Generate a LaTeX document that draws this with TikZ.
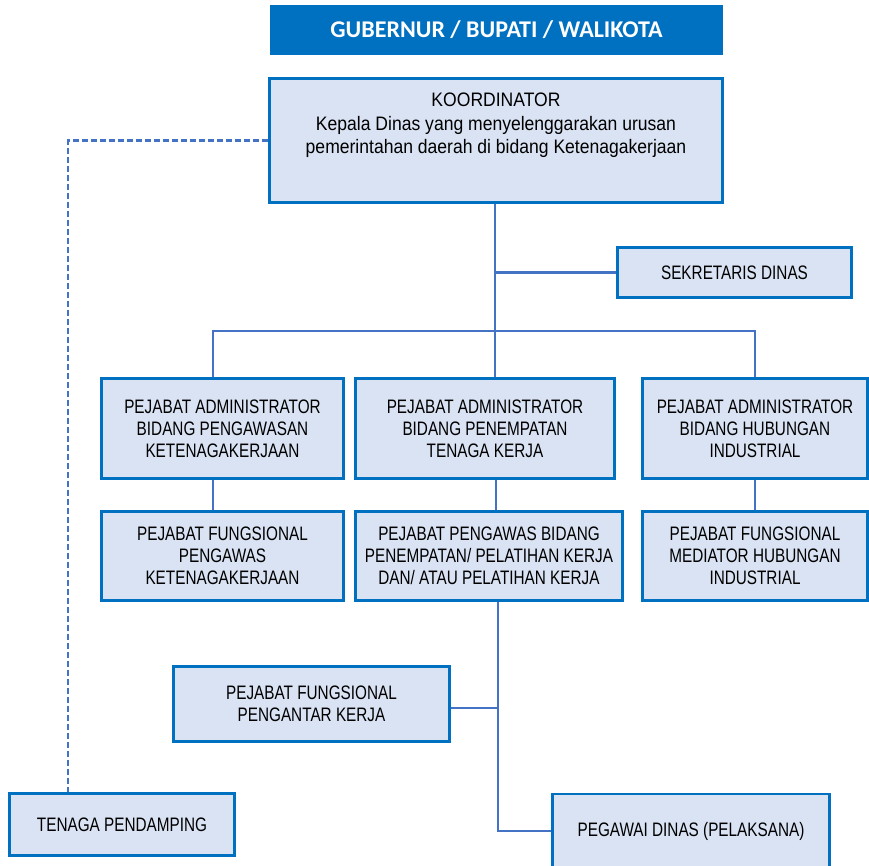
\documentclass[tikz,border=0pt]{standalone}
\usepackage{fontspec}
\setmainfont{Liberation Sans}
\newfontfamily\narrowfont[FakeStretch=0.785]{Liberation Sans}
\newfontfamily\koorfont[FakeStretch=0.9]{Liberation Sans}
\newfontfamily\titlefont{Carlito}
\definecolor{boxborder}{HTML}{0070C0}
\definecolor{boxfill}{HTML}{DAE3F3}
\definecolor{connblue}{HTML}{4472C4}
\tikzset{
  orgbox/.style={draw=boxborder, fill=boxfill, line width=2.6pt, align=center, inner sep=0pt,
    font=\narrowfont\fontsize{19.5}{22}\selectfont},
  titlebox/.style={fill=boxborder, text=white, inner sep=0pt,
    font=\titlefont\bfseries\fontsize{24}{28}\selectfont},
  conn/.style={draw=connblue, line width=2.8pt},
  dashconn/.style={conn, dash pattern=on 6pt off 3pt}
}
\begin{document}
\begin{tikzpicture}[x=1pt,y=-1pt]
\useasboundingbox (0,0) rectangle (869,865);
% nodes
\node[titlebox, minimum width=453pt, minimum height=50pt] (title) at (496.5,30) {GUBERNUR / BUPATI / WALIKOTA};
\node[orgbox, minimum width=453.5pt, minimum height=124.5pt] (koor) at (496,140.5) {};
\node[align=center, inner sep=0pt, anchor=north, font=\koorfont\fontsize{19.5}{23.5}\selectfont] (koortext) at (496,93)
  {KOORDINATOR\\Kepala Dinas yang menyelenggarakan urusan\\pemerintahan daerah di bidang Ketenagakerjaan};
\node[orgbox, minimum width=234.5pt, minimum height=50.5pt] (sek) at (734.5,272.5) {SEKRETARIS DINAS};
\node[orgbox, minimum width=242.5pt, minimum height=100.5pt] (a1) at (222.5,428.5) {PEJABAT ADMINISTRATOR\\BIDANG PENGAWASAN\\KETENAGAKERJAAN};
\node[orgbox, minimum width=259.5pt, minimum height=100.5pt] (a2) at (485,428.5) {PEJABAT ADMINISTRATOR\\BIDANG PENEMPATAN\\TENAGA KERJA};
\node[orgbox, minimum width=225.5pt, minimum height=100.5pt] (a3) at (755,428.5) {PEJABAT ADMINISTRATOR\\BIDANG HUBUNGAN\\INDUSTRIAL};
\node[orgbox, minimum width=242.5pt, minimum height=89.5pt] (f1) at (222.5,556) {PEJABAT FUNGSIONAL\\PENGAWAS\\KETENAGAKERJAAN};
\node[orgbox, minimum width=267.5pt, minimum height=89.5pt] (f2) at (489,556) {PEJABAT PENGAWAS BIDANG\\PENEMPATAN/ PELATIHAN KERJA\\DAN/ ATAU PELATIHAN KERJA};
\node[orgbox, minimum width=225.5pt, minimum height=89.5pt] (f3) at (755,556) {PEJABAT FUNGSIONAL\\MEDIATOR HUBUNGAN\\INDUSTRIAL};
\node[orgbox, minimum width=276.5pt, minimum height=75.5pt] (pk) at (311.5,704) {PEJABAT FUNGSIONAL\\PENGANTAR KERJA};
\node[orgbox, minimum width=225.5pt, minimum height=62.5pt] (tp) at (122,824.5) {TENAGA PENDAMPING};
\node[orgbox, minimum width=277.5pt, minimum height=74pt] (pd) at (691,831) {PEGAWAI DINAS (PELAKSANA)};
% helper coordinates
\coordinate (mx) at (495,0);
\coordinate (mx2) at (496,0);
\coordinate (lx) at (213,0);
\coordinate (lx2) at (498,0);
\coordinate (dx) at (68,0);
\coordinate (bus) at (0,331);
% connectors
\draw[conn] (koor.south -| mx) -- (a2.north -| mx);
\draw[conn] (sek.west) -- (sek.west -| mx);
\draw[conn] (a1.north -| lx) -- (bus -| lx) -- (bus -| a3.north) -- (a3.north);
\draw[conn] (a1.south -| lx) -- (f1.north -| lx);
\draw[conn] (a2.south -| mx2) -- (f2.north -| mx2);
\draw[conn] (a3.south) -- (f3.north);
\draw[conn] (f2.south -| lx2) -- (pd.west -| lx2) -- (pd.west);
\draw[conn] ([yshift=-4pt]pk.east) -- ([yshift=-4pt]pk.east -| lx2);
\draw[dashconn] (koor.west) -- (koor.west -| dx) -- (tp.north -| dx);
\end{tikzpicture}
\end{document}
